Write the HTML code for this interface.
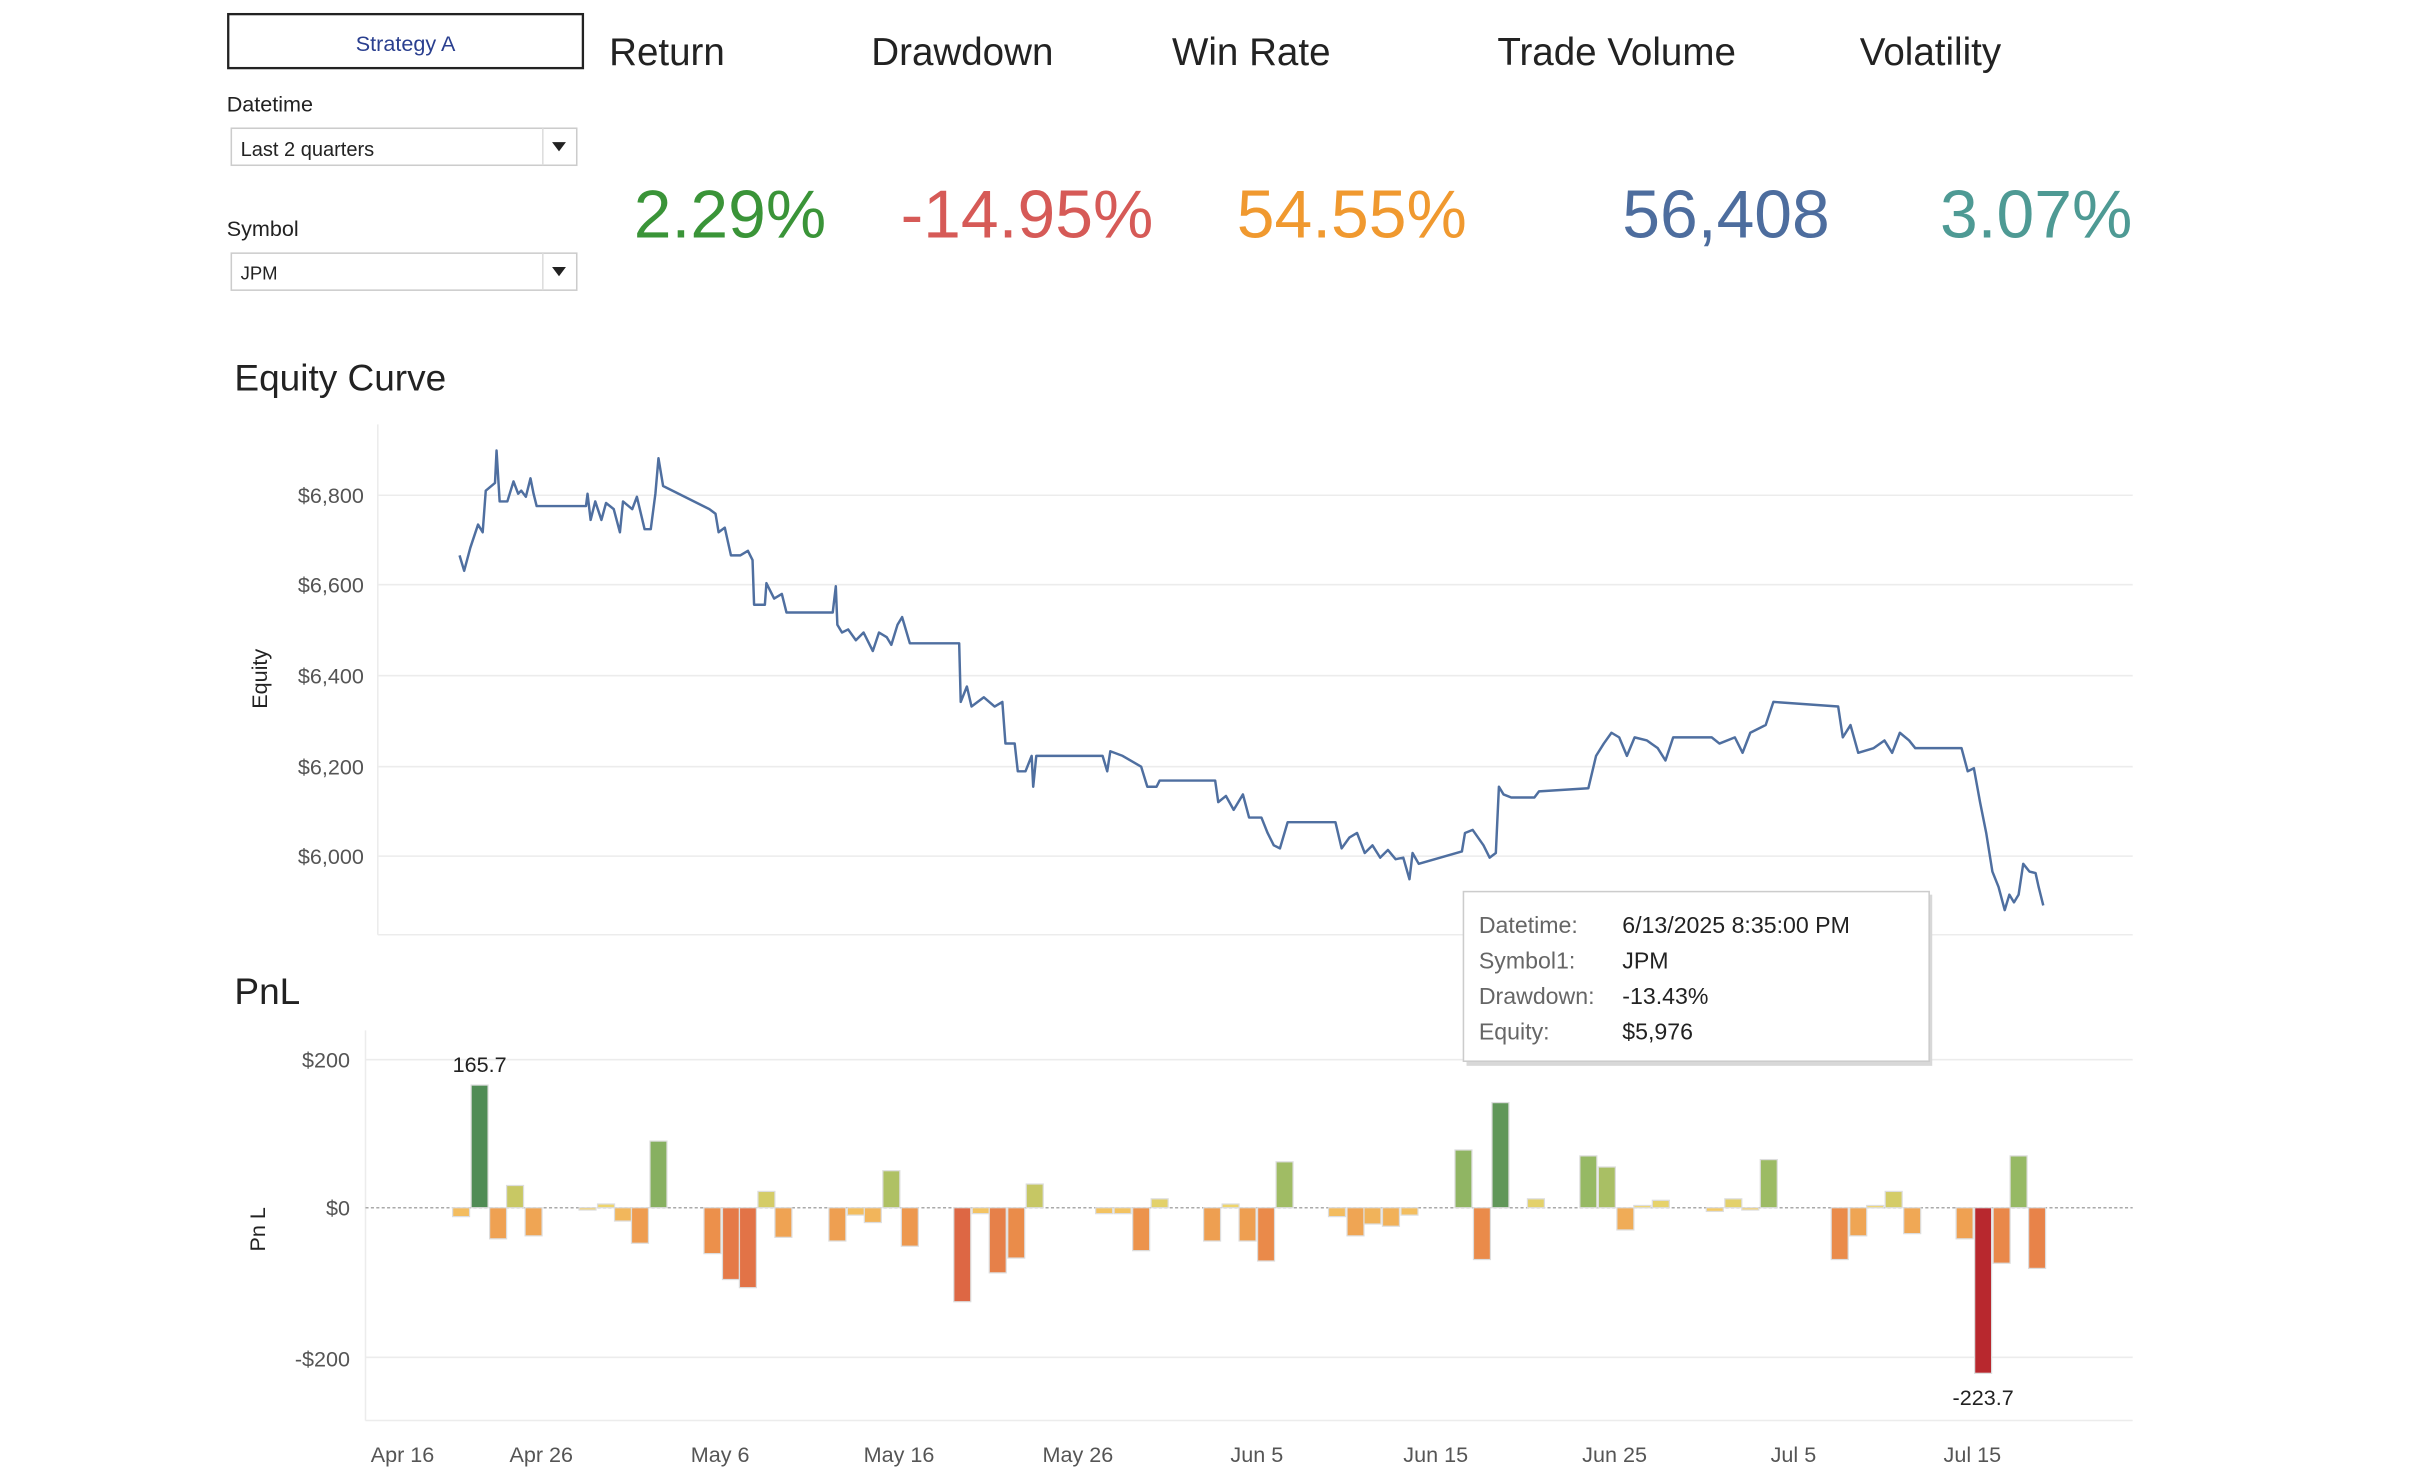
<!DOCTYPE html>
<html><head><meta charset="utf-8"><style>
html,body{margin:0;padding:0;background:#fff;}
svg{display:block;}
text{font-family:"Liberation Sans",sans-serif;}
</style></head><body>
<svg id="s" width="2418" height="1484" viewBox="0 0 1568 962" xmlns="http://www.w3.org/2000/svg">
<rect width="1568" height="962" fill="#fff"/>
<!-- filters -->
<rect x="148" y="9" width="230" height="35" fill="#fff" stroke="#222" stroke-width="1.5"/>
<text x="263" y="33" font-size="14" fill="#2a3f8f" text-anchor="middle">Strategy A</text>
<text x="147" y="72" font-size="14" fill="#222">Datetime</text>
<rect x="150" y="83" width="224" height="24" fill="#fff" stroke="#ccc"/>
<line x1="352" y1="83" x2="352" y2="107" stroke="#ddd"/>
<text x="156" y="101" font-size="13" fill="#222">Last 2 quarters</text>
<path d="M358 92 h9 l-4.5 6z" fill="#222"/>
<text x="147" y="153" font-size="14" fill="#222">Symbol</text>
<rect x="150" y="164" width="224" height="24" fill="#fff" stroke="#ccc"/>
<line x1="352" y1="164" x2="352" y2="188" stroke="#ddd"/>
<text x="156" y="181" font-size="12" fill="#222">JPM</text>
<path d="M358 173 h9 l-4.5 6z" fill="#222"/>
<!-- KPIs -->
<g font-size="25" fill="#222">
<text x="395" y="42">Return</text>
<text x="565" y="42">Drawdown</text>
<text x="760" y="42">Win Rate</text>
<text x="971" y="42">Trade Volume</text>
<text x="1206" y="42">Volatility</text>
</g>
<g font-size="44">
<text x="411" y="154" fill="#3a9438">2.29%</text>
<text x="584" y="154" fill="#d65a57">-14.95%</text>
<text x="802" y="154" fill="#f0992f">54.55%</text>
<text x="1052" y="154" fill="#4d6d9e">56,408</text>
<text x="1258" y="154" fill="#4e9a94">3.07%</text>
</g>
<!-- Equity -->
<text x="152" y="253" font-size="24" fill="#222">Equity Curve</text>
<g stroke="#ececec" stroke-width="1">
<line x1="245" y1="321" x2="1383" y2="321"/>
<line x1="245" y1="379" x2="1383" y2="379"/>
<line x1="245" y1="438" x2="1383" y2="438"/>
<line x1="245" y1="497" x2="1383" y2="497"/>
<line x1="245" y1="555" x2="1383" y2="555"/>
<line x1="245" y1="606" x2="1383" y2="606"/>
<line x1="245" y1="275" x2="245" y2="606"/>
</g>
<g font-size="14" fill="#555" text-anchor="end">
<text x="236" y="326">$6,800</text>
<text x="236" y="384">$6,600</text>
<text x="236" y="443">$6,400</text>
<text x="236" y="502">$6,200</text>
<text x="236" y="560">$6,000</text>
</g>
<text transform="translate(173,440) rotate(-90)" font-size="14" fill="#222" text-anchor="middle">Equity</text>
<polyline fill="none" stroke="#4f6fa0" stroke-width="1.6" stroke-linejoin="round" points="298,360 301,370 305,355 310,340 313,345 315,318 321,313 322,292 324,325 329,325 333,312 336,320 338,318 341,322 344,310 346,320 348,328 380,328 381,320 383,337 386,325 390,337 393,326 398,330 402,345 404,325 410,330 413,322 418,343 422,343 425,320 427,297 430,315 460,330 464,333 466,345 470,342 474,360 480,360 485,357 488,363 489,392 496,392 497,378 502,388 507,385 510,397 540,397 542,380 543,405 546,410 550,408 555,415 560,410 566,422 570,410 575,413 578,418 582,405 585,400 590,417 622,417 623,455 627,445 630,458 638,452 645,458 650,455 652,482 658,482 660,500 665,500 669,490 670,510 672,490 715,490 718,500 720,487 728,490 740,497 744,510 750,510 752,506 788,506 790,520 795,516 800,525 806,515 810,530 818,530 822,540 826,548 830,550 835,533 866,533 870,550 875,543 880,540 885,553 890,548 895,556 900,551 905,557 910,556 914,570 916,553 920,560 948,552 950,540 955,538 962,548 966,556 970,553 972,510 975,515 980,517 995,517 998,513 1030,511 1035,490 1040,482 1045,475 1050,478 1055,490 1060,478 1068,480 1075,485 1080,493 1085,478 1110,478 1115,482 1125,478 1130,488 1135,475 1145,470 1150,455 1192,458 1195,478 1200,470 1205,488 1215,485 1222,480 1227,488 1232,475 1238,480 1242,485 1272,485 1276,500 1280,498 1284,520 1288,540 1292,565 1296,575 1300,590 1303,580 1306,585 1309,580 1312,560 1316,565 1320,566 1322,575 1325,587"/>
<!-- PnL -->
<text x="152" y="651" font-size="24" fill="#222">PnL</text>
<g stroke="#ececec">
<line x1="237" y1="687" x2="1383" y2="687"/>
<line x1="237" y1="880" x2="1383" y2="880"/>
<line x1="237" y1="921" x2="1383" y2="921"/>
<line x1="237" y1="668" x2="237" y2="921"/>
</g>
<line x1="237" y1="783" x2="1383" y2="783" stroke="#aaa" stroke-dasharray="2,1.5"/>
<g font-size="14" fill="#555" text-anchor="end">
<text x="227" y="692">$200</text>
<text x="227" y="788">$0</text>
<text x="227" y="886">-$200</text>
</g>
<text transform="translate(172,797) rotate(-90)" font-size="14" fill="#222" text-anchor="middle">Pn L</text>
<g id="bars"></g>
<text x="311" y="695" font-size="14" fill="#222" text-anchor="middle">165.7</text>
<text x="1286" y="911" font-size="14" fill="#222" text-anchor="middle">-223.7</text>
<g font-size="14" fill="#555" text-anchor="middle">
<text x="261" y="948">Apr 16</text>
<text x="351" y="948">Apr 26</text>
<text x="467" y="948">May 6</text>
<text x="583" y="948">May 16</text>
<text x="699" y="948">May 26</text>
<text x="815" y="948">Jun 5</text>
<text x="931" y="948">Jun 15</text>
<text x="1047" y="948">Jun 25</text>
<text x="1163" y="948">Jul 5</text>
<text x="1279" y="948">Jul 15</text>
</g>
<!-- tooltip -->
<rect x="951" y="580" width="302" height="111" fill="#d8d8d8"/>
<rect x="949" y="578" width="302" height="110" fill="#fff" stroke="#ccc"/>
<g font-size="15">
<text x="959" y="605" fill="#666">Datetime:</text><text x="1052" y="605" fill="#222">6/13/2025 8:35:00 PM</text>
<text x="959" y="628" fill="#666">Symbol1:</text><text x="1052" y="628" fill="#222">JPM</text>
<text x="959" y="651" fill="#666">Drawdown:</text><text x="1052" y="651" fill="#222">-13.43%</text>
<text x="959" y="674" fill="#666">Equity:</text><text x="1052" y="674" fill="#222">$5,976</text>
</g>
</svg>
<script>
var d=[[299,-12],[311,165.7],[323,-42],[334,30],[346,-38],[381,-3],[393,5],[404,-18],[415,-48],[427,90],[462,-62],[474,-97],[485,-108],[497,22],[508,-40],[543,-45],[555,-10],[566,-20],[578,50],[590,-52],[624,-127],[636,-8],[647,-88],[659,-68],[671,32],[716,-8],[728,-8],[740,-58],[752,12],[786,-45],[798,5],[809,-45],[821,-72],[833,62],[867,-12],[879,-38],[890,-22],[902,-25],[914,-10],[949,78],[961,-70],[973,142],[996,12],[1030,70],[1042,55],[1054,-30],[1065,3],[1077,10],[1112,-5],[1124,12],[1135,-3],[1147,65],[1193,-70],[1205,-38],[1216,3],[1228,22],[1240,-35],[1274,-42],[1286,-223.7],[1298,-75],[1309,70],[1321,-82]];
function col(v){
 var stops=[[-224,[184,40,46]],[-120,[224,108,70]],[-60,[236,145,75]],[-10,[243,190,95]],[0,[245,215,110]],[30,[200,200,100]],[70,[150,185,100]],[165,[80,140,85]]];
 for(var i=0;i<stops.length-1;i++){var a=stops[i],b=stops[i+1];if(v<=b[0]){var t=(v-a[0])/(b[0]-a[0]);t=Math.max(0,Math.min(1,t));return 'rgb('+a[1].map(function(c,k){return Math.round(c+(b[1][k]-c)*t)}).join(',')+')';}}
 return 'rgb(80,140,85)';}
var g=document.getElementById('bars'),h='';
d.forEach(function(p){var y0=783,y1=783-p[1]*0.48;var top=Math.min(y0,y1),hh=Math.max(1.5,Math.abs(y1-y0));
h+='<rect x="'+(p[0]-5.5)+'" y="'+top+'" width="11" height="'+hh+'" fill="'+col(p[1])+'" stroke="#ddd" stroke-width="0.8"/>';});
g.innerHTML=h;
</script>
</body></html>
